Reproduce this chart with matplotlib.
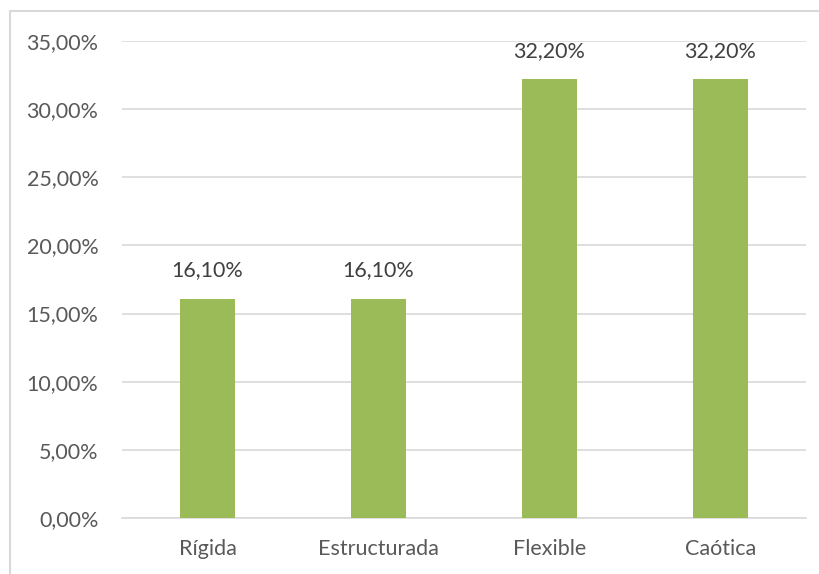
import matplotlib
matplotlib.use('Agg')
from matplotlib import pyplot as plt
from matplotlib.patches import Rectangle
from matplotlib.ticker import FuncFormatter
import numpy as np

categories = ['Rígida', 'Estructurada', 'Flexible', 'Caótica']
values = [16.10, 16.10, 32.20, 32.20]
yticks = [0, 5, 10, 15, 20, 25, 30, 35]

plt.rcParams['font.family'] = ['Lato', 'DejaVu Sans']

fig = plt.figure(figsize=(8.2, 5.74), dpi=100)
ax = fig.add_axes([122 / 820, 1 - 518 / 574, (806 - 122) / 820, (518 - 41) / 574])

# outer chart border like the Excel frame
fig.patches.append(Rectangle((10 / 820, -0.1), 1.2, 1 - 11 / 574 + 0.1,
                             transform=fig.transFigure, fill=False,
                             edgecolor='#d9d9d9', linewidth=1.5))

x = np.arange(len(categories))
ax.bar(x, values, width=0.32, color='#9bbb59', zorder=3)

for xi, v in zip(x, values):
    ax.text(xi, v + 1.35, f'{v:.2f}%'.replace('.', ','), ha='center', va='bottom',
            fontsize=15.5, color='#404040')

ax.set_xlim(-0.5, len(categories) - 0.5)
ax.set_ylim(0, 35)
ax.set_yticks(yticks)
ax.yaxis.set_major_formatter(FuncFormatter(lambda v, p: f'{v:.2f}%'.replace('.', ',')))
ax.set_xticks(x)
ax.set_xticklabels(categories)
ax.grid(axis='y', color='#d9d9d9', linewidth=1.2, zorder=0)
for s in ['top', 'right', 'left']:
    ax.spines[s].set_visible(False)
ax.spines['bottom'].set_color('#d9d9d9')
ax.spines['bottom'].set_linewidth(1.2)
ax.tick_params(axis='both', length=0, labelsize=15.5, colors='#595959')
ax.tick_params(axis='y', pad=17)
ax.tick_params(axis='x', pad=15)

fig.savefig('out.png', dpi=100)
